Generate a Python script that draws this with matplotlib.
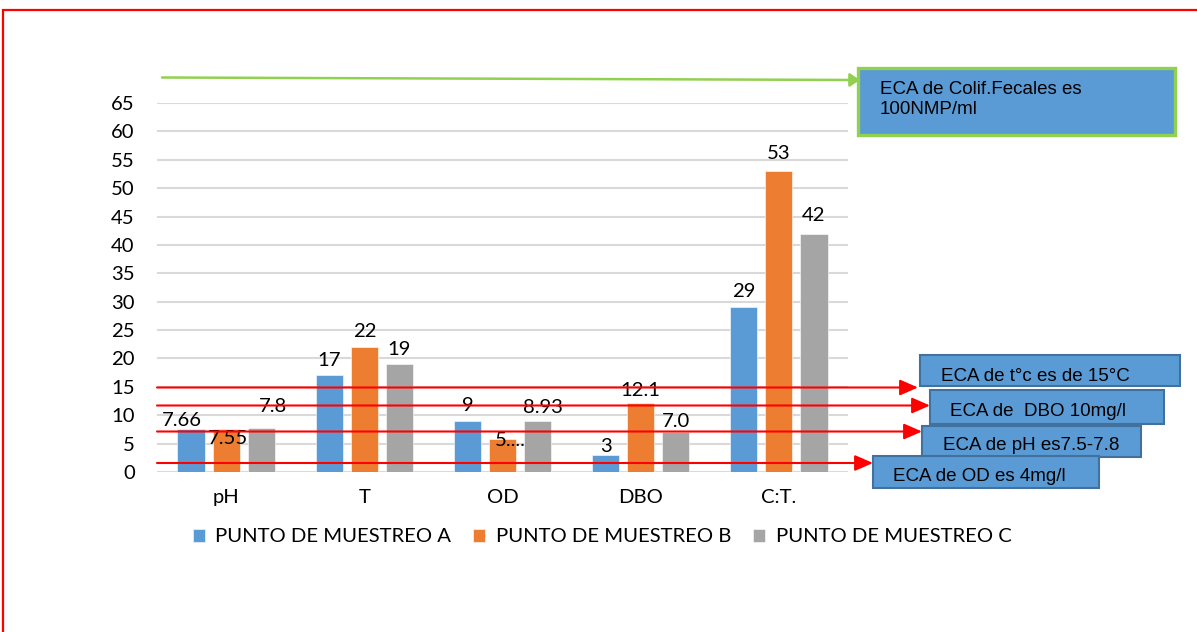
import matplotlib
matplotlib.use("Agg")
import matplotlib.pyplot as plt
import numpy as np
from matplotlib.patches import Rectangle, FancyArrowPatch

# ---------------- data ----------------
categories = ["pH", "T", "OD", "DBO", "C:T."]
series_names = ["PUNTO DE MUESTREO A", "PUNTO DE MUESTREO B", "PUNTO DE MUESTREO C"]
punto_a = [7.66, 17, 9, 3, 29]
punto_b = [7.55, 22, 5.81, 12.1, 53]
punto_c = [7.8, 19, 8.93, 7.0, 42]
labels_a = ["7.66", "17", "9", "3", "29"]
labels_b = ["7.55", "22", "5....", "12.1", "53"]
labels_c = ["7.8", "19", "8.93", "7.0", "42"]
y_ticks = list(range(0, 70, 5))
eca_texts = ["ECA de Colif.Fecales es\n100NMP/ml", "ECA de t°c es de 15°C",
             "ECA de  DBO 10mg/l", "ECA de pH es7.5-7.8", "ECA de OD es 4mg/l"]

# ---------------- style ----------------
W, H = 1197, 632
colors = ["#5B9BD5", "#ED7D31", "#A5A5A5"]
FONT = "Lato"
BOXFONT = "Liberation Sans"
FS = 14.6

def fx(x):
    return x / W

def fy(y):
    return 1 - y / H

fig = plt.figure(figsize=(W / 100, H / 100), dpi=100)
ax = fig.add_axes([fx(157), fy(472), (848 - 157) / W, (472 - 103) / H])

x = np.arange(len(categories))
bw = 0.196
off = 0.254
series = [punto_a, punto_b, punto_c]
labels = [labels_a, labels_b, labels_c]
# label offsets in pixels (dx, dy) of text centre relative to bar top
lab_off = [
    [(-9, 8), (0, 15), (0, 15), (0, 8), (0, 16)],
    [(2, -9), (0, 16), (8, -1), (0, 12.5), (0, 18)],
    [(12, 21), (0, 15), (5, 14), (0, 11), (0, 18)],
]
for i, (vals, col) in enumerate(zip(series, colors)):
    xs = x + (i - 1) * off
    ax.bar(xs, vals, width=bw, color=col, zorder=3, label=series_names[i],
           edgecolor="white", linewidth=0.4)
    for j, (xx, v) in enumerate(zip(xs, vals)):
        dx, dy = lab_off[i][j]
        ax.annotate(labels[i][j], (xx, v), xytext=(dx, dy), textcoords="offset pixels",
                    ha="center", va="center", fontsize=FS, family=FONT, color="#000000",
                    zorder=5)

ax.set_xlim(-0.5, len(categories) - 0.5)
ax.set_ylim(0, 65)
ax.set_yticks(y_ticks)
ax.set_xticks(x)
ax.set_xticklabels(categories)
ax.yaxis.grid(True, color="#D9D9D9", linewidth=1.5, zorder=0)
ax.set_axisbelow(True)
for s in ax.spines.values():
    s.set_visible(False)
ax.tick_params(axis="both", length=0, labelsize=FS)
ax.tick_params(axis="y", pad=16)
ax.tick_params(axis="x", pad=12)
for t in ax.get_xticklabels() + ax.get_yticklabels():
    t.set_family(FONT)

# legend
h, l = ax.get_legend_handles_labels()
fig.legend(h, l, loc="center", bbox_to_anchor=(fx(602), fy(537)), ncol=3, frameon=False,
           prop={"family": FONT, "size": FS}, handlelength=0.6, handleheight=0.6,
           handletextpad=0.5, columnspacing=1.1)

# red frame
fig.add_artist(Rectangle((fx(3), -0.2), 1.2, fy(10) + 0.2, transform=fig.transFigure,
                         fill=False, edgecolor="#FF0000", linewidth=1.6))

# green arrow
fig.add_artist(FancyArrowPatch((fx(162), fy(77.5)), (fx(860), fy(80)),
                               transform=fig.transFigure, arrowstyle="-|>,head_length=6,head_width=4",
                               color="#92D050", linewidth=1.8, shrinkA=0, shrinkB=0, zorder=6))

# red arrows (start, tip)
red_arrows = [((157, 387.5), (918, 387.5)), ((157, 405.5), (930, 405.5)),
              ((157, 431.5), (922, 431.5)), ((157, 463), (873, 463))]
for (x0, y0), (x1, y1) in red_arrows:
    fig.add_artist(FancyArrowPatch((fx(x0), fy(y0)), (fx(x1), fy(y1)),
                                   transform=fig.transFigure,
                                   arrowstyle="-|>,head_length=11,head_width=4.8",
                                   color="#FF0000", linewidth=1.5, shrinkA=0, shrinkB=0, zorder=6))

# boxes: (left, top, right, bottom, text_x, text_y, edgecolor, lw)
boxes = [
    (858, 68, 1175, 135, 880, 99.5, "#92D050", 2.4),
    (920, 355, 1180, 386, 941, 376.5, "#41719C", 1.5),
    (930, 390, 1164, 424, 950, 411.5, "#41719C", 1.5),
    (922, 426, 1141, 457, 943, 446, "#41719C", 1.5),
    (873, 456, 1099, 488, 893, 476.5, "#41719C", 1.5),
]
boxes_draw_order = [0, 1, 3, 2, 4]
for k in boxes_draw_order:
    l_, t_, r_, b_, tx, ty, ec, lw = boxes[k]
    fig.add_artist(Rectangle((fx(l_), fy(b_)), (r_ - l_) / W, (b_ - t_) / H,
                             transform=fig.transFigure, facecolor="#5B9BD5",
                             edgecolor=ec, linewidth=lw, zorder=7 + k * 0.1))
    fig.text(fx(tx), fy(ty), eca_texts[k], ha="left", va="center", fontsize=13.5,
             family=BOXFONT, color="#000000", zorder=7.05 + k * 0.1, linespacing=1.2)

fig.savefig("out.png", dpi=100, facecolor="white")
